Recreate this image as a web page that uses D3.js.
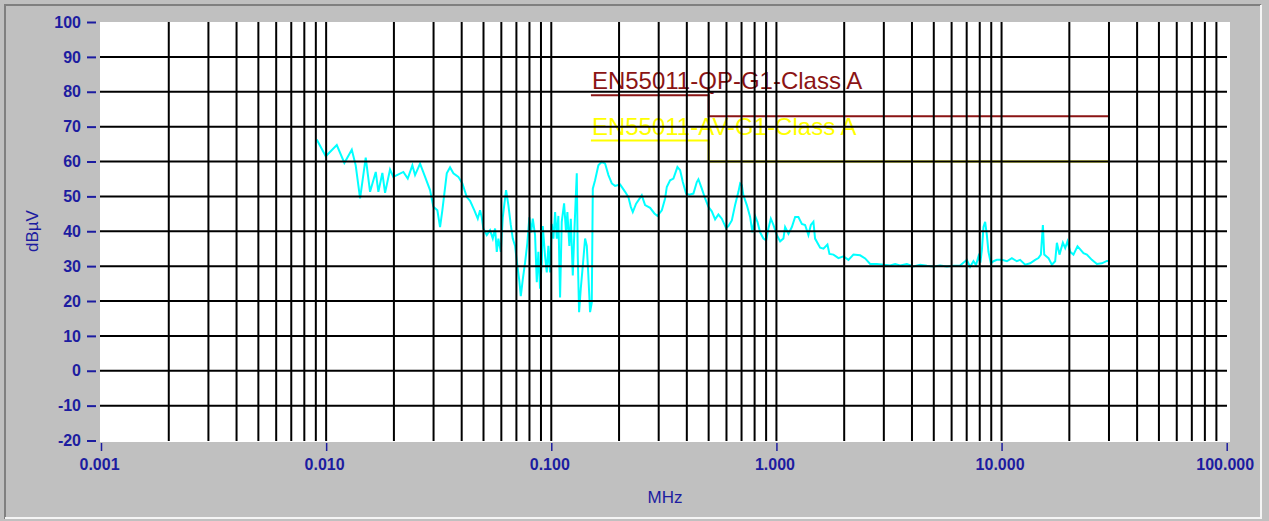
<!DOCTYPE html>
<html>
<head>
<meta charset="utf-8">
<script src="https://cdn.jsdelivr.net/npm/d3@7"></script>
<style>
  html, body { margin: 0; padding: 0; background: #c0c0c0; }
  svg { display: block; }
  text { font-family: "Liberation Sans", Arial, sans-serif; }
</style>
</head>
<body>
<div id="chart"></div>
<script>
// measured trace (MHz / dBµV)
const freqMHz = [
  0.00908, 0.00996, 0.01115, 0.01205, 0.0130, 0.01353, 0.01415, 0.01499, 0.01567, 0.01661,
  0.01706, 0.01777, 0.01827, 0.01922, 0.01988, 0.02203, 0.02304, 0.02415, 0.02483, 0.02613,
  0.02751, 0.02894, 0.02994, 0.03119, 0.03206, 0.03282, 0.03434, 0.03551, 0.03674, 0.03866,
  0.04028, 0.04213, 0.04358, 0.04554, 0.04715, 0.04827, 0.04911, 0.04992, 0.0517, 0.05347,
  0.05497, 0.05628, 0.05727, 0.05821, 0.05966, 0.06089, 0.06298, 0.06448, 0.06609, 0.06745,
  0.06906, 0.0707, 0.07217, 0.07321, 0.07472, 0.07649, 0.07831, 0.07993, 0.08134, 0.08276,
  0.08472, 0.08622, 0.08764, 0.08917, 0.09074, 0.09167, 0.09384, 0.0955, 0.09707, 0.09877,
  0.1005, 0.1022, 0.104, 0.1058, 0.1075, 0.1094, 0.1113, 0.114, 0.1163, 0.1179,
  0.1203, 0.1221, 0.1246, 0.1266, 0.1298, 0.1311, 0.1329, 0.1352, 0.138, 0.1413,
  0.1438, 0.1461, 0.1487, 0.1513, 0.1529, 0.1565, 0.1619, 0.1676, 0.1734, 0.1794,
  0.1857, 0.192, 0.2021, 0.2128, 0.22, 0.2256, 0.2302, 0.2381, 0.2523, 0.261,
  0.2748, 0.2871, 0.2961, 0.3097, 0.3203, 0.3259, 0.3371, 0.3487, 0.3633, 0.3735,
  0.3839, 0.3971, 0.4107, 0.4279, 0.443, 0.4503, 0.4662, 0.4823, 0.4988, 0.5164,
  0.5342, 0.5525, 0.5721, 0.5978, 0.612, 0.6337, 0.6553, 0.6779, 0.6899, 0.7019,
  0.7135, 0.7388, 0.7642, 0.7823, 0.8042, 0.8233, 0.8464, 0.8755, 0.900, 0.9213,
  0.9443, 0.9698, 1.004, 1.039, 1.074, 1.093, 1.131, 1.171, 1.211, 1.252,
  1.297, 1.341, 1.387, 1.422, 1.460, 1.485, 1.564, 1.618, 1.685, 1.720,
  1.792, 1.886, 1.985, 2.089, 2.198, 2.354, 2.478, 2.608, 2.793, 2.988,
  3.2, 3.368, 3.545, 3.796, 4.062, 4.349, 4.658, 4.983, 5.336, 5.715,
  6.113, 6.546, 7.011, 7.25, 7.503, 7.7, 7.896, 8.05, 8.176, 8.311, 8.456, 8.605, 8.747,
  8.965, 9.204, 9.530, 10.03, 10.56, 11.11, 11.69, 12.09, 12.73, 13.4,
  14.1, 14.58, 14.95, 15.26, 15.47, 16.16, 16.73, 17.3, 17.61, 18.08,
  18.72, 19.17, 19.62, 20.17, 20.86, 21.74, 22.51, 23.11, 23.93, 25.18,
  26.51, 27.9, 29.37, 30.0
];
const levelDb = [
  66.3, 61.5, 64.7, 59.6, 63.4, 58.9, 49.4, 61.1, 51.3, 57.0,
  51.3, 56.7, 51.0, 57.7, 55.6, 57.0, 55.1, 58.9, 56.1, 59.4,
  55.6, 51.8, 47.0, 46.0, 41.2, 46.0, 56.6, 58.3, 56.6, 55.6,
  53.7, 49.8, 48.7, 46.0, 43.6, 46.0, 44.0, 40.8, 38.9, 40.3,
  37.9, 40.8, 34.1, 37.9, 34.1, 44.0, 51.8, 47.5, 41.8, 37.9,
  35.8, 30.0, 25.7, 21.4, 26.2, 31.0, 36.7, 44.0, 39.7, 43.6,
  38.9, 25.4, 34.1, 23.5, 31.0, 41.5, 32.9, 28.2, 35.8, 28.2,
  42.1, 37.9, 45.5, 37.9, 44.4, 21.0, 42.7, 48.0, 39.7, 45.5,
  35.8, 43.6, 27.3, 39.7, 56.6, 32.9, 16.8, 23.5, 30.0, 37.9,
  35.8, 27.3, 16.8, 19.5, 52.2, 54.6, 58.9, 59.9, 59.4, 56.1,
  53.7, 53.0, 53.4, 51.3, 49.8, 47.0, 45.5, 47.9, 50.3, 47.5,
  46.7, 45.1, 44.4, 46.0, 49.4, 52.7, 54.6, 55.1, 58.4, 57.5,
  54.1, 50.8, 50.5, 50.8, 54.1, 54.9, 52.2, 49.4, 47.0, 45.7,
  43.4, 44.8, 43.6, 40.9, 41.5, 43.1, 47.5, 51.3, 53.7, 53.2,
  50.3, 47.5, 44.1, 39.7, 44.4, 42.7, 39.7, 37.9, 37.4, 40.8,
  43.6, 41.8, 38.9, 37.1, 37.9, 41.2, 39.3, 41.2, 44.1, 44.1,
  42.1, 41.8, 38.9, 41.8, 42.7, 37.9, 35.3, 35.0, 36.2, 33.5,
  33.3, 32.3, 32.8, 31.8, 33.3, 33.1, 32.2, 30.6, 30.6, 30.4,
  30.2, 30.6, 30.2, 30.6, 29.9, 30.4, 30.1, 29.9, 30.2, 29.9,
  30.1, 30.2, 31.8, 29.8, 31.4, 30.3, 32.8, 31.0, 34.6, 41.2, 42.7, 38.9, 34.1,
  30.8, 31.4, 31.8, 31.8, 31.4, 32.3, 31.4, 31.8, 30.4, 30.8,
  31.8, 32.3, 33.3, 41.8, 33.3, 32.3, 30.4, 31.4, 36.7, 33.3,
  36.7, 35.2, 37.1, 34.1, 33.3, 35.7, 34.6, 33.7, 33.3, 31.8,
  30.6, 30.8, 31.5, 31.5
];

// limit lines
const qpFreq = [0.15, 0.5, 0.5, 30];
const qpLevel = [79, 79, 73, 73];
const avFreq = [0.15, 0.5, 0.5, 30];
const avLevel = [66, 66, 60, 60];
const qpName = "EN55011-QP-G1-Class A";
const avName = "EN55011-AV-G1-Class A";

const yTicks = [100, 90, 80, 70, 60, 50, 40, 30, 20, 10, 0, -10, -20];
const xTicks = [0.001, 0.01, 0.1, 1, 10, 100];
const xTickLabels = ["0.001", "0.010", "0.100", "1.000", "10.000", "100.000"];

const W = 1269, H = 521;
const axisColor = "#1c1ca0";

const svg = d3
  .select("#chart")
  .append("svg")
  .attr("width", W)
  .attr("height", H);

// panel border (sunken look)
svg.append("rect").attr("width", W).attr("height", H).attr("fill", "#c0c0c0");
svg.append("path")
  .attr("d", "M5,519 L5,5 L1261,5")
  .attr("fill", "none").attr("stroke", "#808080").attr("stroke-width", 2);
svg.append("path")
  .attr("d", "M5,518 L1261,518 L1261,5")
  .attr("fill", "none").attr("stroke", "#f4f4f4").attr("stroke-width", 2);

const xScale = d3.scaleLog().domain([0.001, 100]).range([101, 1226.7]);
const yScale = d3.scaleLinear().domain([-20, 100]).range([440.5, 22]);

// plot background
svg.append("rect")
  .attr("x", 100).attr("y", 22)
  .attr("width", 1130).attr("height", 420)
  .attr("fill", "#ffffff");

const plot = svg.append("g");

// trace
const line = d3.line()
  .x((d, i) => xScale(freqMHz[i]))
  .y((d) => yScale(d));
plot.append("path")
  .datum(levelDb)
  .attr("fill", "none")
  .attr("stroke", "#00ffff")
  .attr("stroke-width", 2)
  .attr("d", line);

// limits
function limitLine(fs, ls, color) {
  const l = d3.line().x((d, i) => xScale(fs[i])).y((d) => yScale(d));
  plot.append("path")
    .datum(ls)
    .attr("fill", "none")
    .attr("stroke", color)
    .attr("stroke-width", 2)
    .attr("d", l);
}
limitLine(qpFreq, qpLevel, "#8b1414");
limitLine(avFreq, avLevel, "#ffff00");

plot.append("text")
  .attr("x", xScale(qpFreq[0]) + 1)
  .attr("y", yScale(qpLevel[0]) - 6)
  .attr("font-size", 24)
  .attr("fill", "#8b1414")
  .text(qpName);
plot.append("text")
  .attr("x", xScale(avFreq[0]) + 1)
  .attr("y", yScale(avLevel[0]) - 6)
  .attr("font-size", 24)
  .attr("fill", "#ffff00")
  .text(avName);

// grid on top of the curves
const gridX = [];
for (let e = -3; e <= 1; e++) {
  for (let k = 1; k <= 9; k++) {
    const v = k * Math.pow(10, e);
    if (!(e === -3 && k === 1)) gridX.push(v);
  }
}
const grid = svg.append("g").attr("stroke", "#000").attr("stroke-width", 2);
grid.selectAll("line.v")
  .data(gridX)
  .enter()
  .append("line")
  .attr("x1", (d) => xScale(d))
  .attr("x2", (d) => xScale(d))
  .attr("y1", 22)
  .attr("y2", 441);
grid.selectAll("line.h")
  .data(yTicks.filter((d) => d > -20 && d < 100))
  .enter()
  .append("line")
  .attr("x1", 100)
  .attr("x2", 1227)
  .attr("y1", (d) => yScale(d))
  .attr("y2", (d) => yScale(d));

// Axes
const yAxis = svg.append("g")
  .attr("transform", "translate(96,0)")
  .call(d3.axisLeft(yScale)
    .tickValues(yTicks)
    .tickFormat((d) => String(d))
    .tickSize(9)
    .tickPadding(6));
yAxis.select(".domain").remove();
yAxis.selectAll("line").attr("stroke", axisColor).attr("stroke-width", 2);
yAxis.selectAll("text")
  .attr("fill", axisColor)
  .attr("font-size", 16)
  .attr("font-weight", "bold")
  .attr("font-family", "Liberation Sans, Arial, sans-serif");

const xAxis = svg.append("g")
  .attr("transform", "translate(0,443)")
  .call(d3.axisBottom(xScale)
    .tickValues(xTicks)
    .tickFormat((d, i) => xTickLabels[i])
    .tickSize(8)
    .tickPadding(8));
xAxis.select(".domain").remove();
xAxis.selectAll("line").attr("stroke", axisColor).attr("stroke-width", 1.5);
xAxis.selectAll("text")
  .attr("fill", axisColor)
  .attr("font-size", 16)
  .attr("font-weight", "bold")
  .attr("dx", -2)
  .attr("font-family", "Liberation Sans, Arial, sans-serif");

svg.append("text")
  .attr("transform", "translate(38,231) rotate(-90)")
  .attr("text-anchor", "middle")
  .attr("font-size", 17)
  .attr("fill", axisColor)
  .text("dBµV");

svg.append("text")
  .attr("x", 665)
  .attr("y", 503)
  .attr("text-anchor", "middle")
  .attr("font-size", 17)
  .attr("fill", axisColor)
  .text("MHz");
</script>
</body>
</html>
